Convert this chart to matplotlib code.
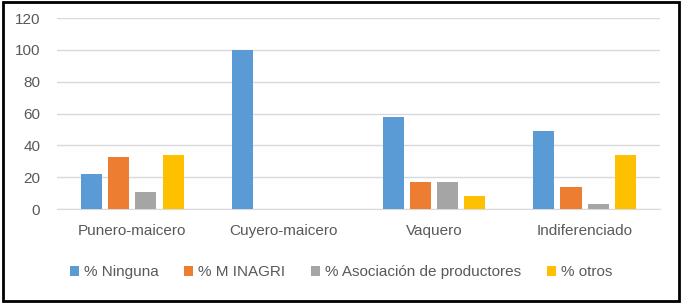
import numpy as np
from matplotlib import pyplot as plt
from matplotlib.patches import Rectangle

# categories and series (%)
categorias = ["Punero-maicero", "Cuyero-maicero", "Vaquero", "Indiferenciado"]
ninguna = [22, 100, 58, 49]
minagri = [33, 0, 17, 14]
asociacion = [11, 0, 17, 3]
otros = [34, 0, 8, 34]

series = [
    ("% Ninguna", ninguna, "#5B9BD5"),
    ("% M INAGRI", minagri, "#ED7D31"),
    ("% Asociación de productores", asociacion, "#A5A5A5"),
    ("% otros", otros, "#FFC000"),
]

plt.rcParams["font.family"] = ["Liberation Sans", "DejaVu Sans"]
txt_color = "#595959"

fig = plt.figure(figsize=(6.82, 3.03), dpi=100)
ax = fig.add_axes([0.0836, 0.310, 0.884, 0.630])

x = np.arange(len(categorias))
width = 0.14
step = 0.18
for i, (name, vals, color) in enumerate(series):
    offs = (i - 1.5) * step
    ax.bar(x + offs, vals, width, color=color, label=name, zorder=3)

ax.set_xlim(-0.5, 3.5)
ax.set_ylim(0, 120)
ax.set_yticks(range(0, 121, 20))
ax.set_xticks(x)
ax.set_xticklabels(categorias)
ax.grid(axis="y", color="#d9d9d9", linewidth=1, zorder=0)
ax.tick_params(axis="both", length=0, labelsize=11, colors=txt_color)
ax.tick_params(axis="y", pad=12)
ax.tick_params(axis="x", pad=11)
for s in ["top", "right", "left"]:
    ax.spines[s].set_visible(False)
ax.spines["bottom"].set_color("#d9d9d9")

fig.legend(loc="center", bbox_to_anchor=(0.5, 0.102), ncol=4, frameon=False,
           handlelength=0.6, handleheight=0.6, handletextpad=0.3,
           columnspacing=1.7, fontsize=11, labelcolor=txt_color)

# black frame around the chart
fig.patches.append(Rectangle((0.004, 0.006), 0.992, 0.988, transform=fig.transFigure,
                             fill=False, edgecolor="black", linewidth=2))

fig.savefig("out.png", dpi=100)
